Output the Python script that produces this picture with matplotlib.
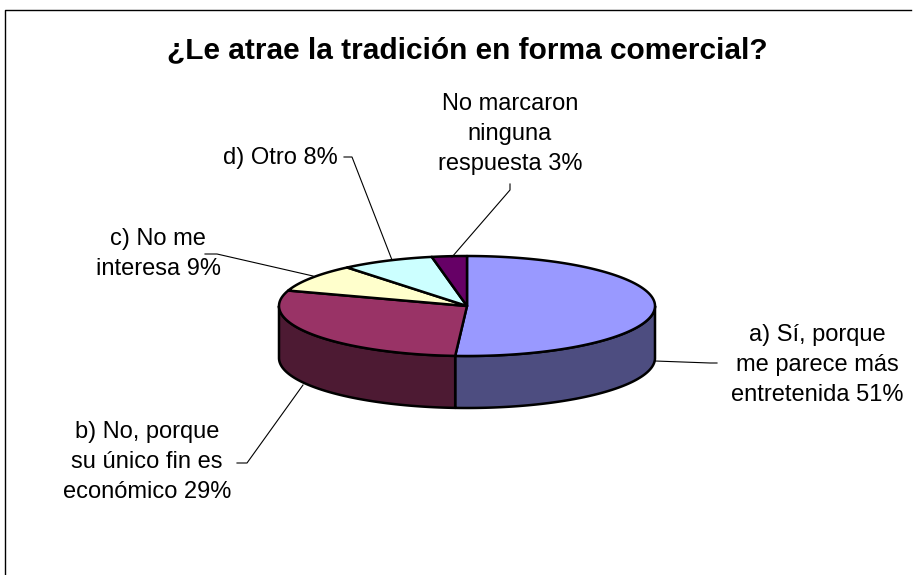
import numpy as np
import matplotlib.pyplot as plt
from matplotlib.patches import Polygon

plt.rcParams['font.family'] = ['Liberation Sans', 'DejaVu Sans']

# datos del grafico
etiquetas = ['a) Sí, porque\nme parece más\nentretenida 51%',
             'b) No, porque\nsu único fin es\neconómico 29%',
             'c) No me\ninteresa 9%',
             'd) Otro 8%',
             'No marcaron\nninguna\nrespuesta 3%']
valores = [51, 29, 9, 8, 3]
colores = ['#9999FF', '#993366', '#FFFFCC', '#CCFFFF', '#660066']
titulo = '¿Le atrae la tradición en forma comercial?'

# geometria del pastel 3D (en pixeles)
cx, cy = 467, 306
rx, ry = 188, 50
prof = 52

def punto(t):
    # t = angulo en grados, sentido horario desde arriba
    r = np.radians(t)
    return cx + rx * np.sin(r), cy - ry * np.cos(r)

def arco(t1, t2, dy=0):
    ts = np.linspace(t1, t2, max(int(abs(t2 - t1)) * 2, 2))
    xs, ys = punto(ts)
    return np.column_stack([xs, ys + dy])

fig = plt.figure(figsize=(9.16, 5.75), dpi=100)
ax = fig.add_axes([0, 0, 1, 1])
ax.set_xlim(0, 916)
ax.set_ylim(575, 0)
ax.axis('off')

# marco
ax.plot([5, 5, 911], [575, 10, 10], color='black', lw=1)

ang = np.concatenate([[0], np.cumsum(valores) / sum(valores) * 360])

# caras laterales (solo la mitad frontal)
for i in range(len(valores)):
    a1, a2 = max(ang[i], 90), min(ang[i + 1], 270)
    if a2 <= a1:
        continue
    arriba = arco(a1, a2)
    abajo = arco(a2, a1, prof)
    c = np.array(plt.matplotlib.colors.to_rgb(colores[i])) * 0.5
    ax.add_patch(Polygon(np.vstack([arriba, abajo]), closed=True,
                         facecolor=c, edgecolor='black', lw=1.8, joinstyle='round'))

# caras superiores
for i in range(len(valores)):
    pts = np.vstack([[cx, cy], arco(ang[i], ang[i + 1])])
    ax.add_patch(Polygon(pts, closed=True, facecolor=colores[i],
                         edgecolor='black', lw=1.8, joinstyle='round'))

# etiquetas y lineas guia
pos_texto = [(817, 365), (147, 462), (158, 254), (280, 158), (510, 134)]
guias = [
    [(655, 361), (710, 363), (717, 363)],
    [(303, 385), (247, 463), (237, 463)],
    [(313, 276), (217, 254), (205, 254)],
    [(392, 260), (352, 157), (344, 157)],
    [(452, 257), (510, 190), (510, 184)],
]
for txt, (tx, ty), g in zip(etiquetas, pos_texto, guias):
    ax.text(tx, ty, txt, ha='center', va='center', multialignment='center',
            fontsize=17, linespacing=1.45)
    gx, gy = zip(*g)
    ax.plot(gx, gy, color='black', lw=0.8)

ax.text(467, 50, titulo, ha='center', va='center', fontsize=21.5,
        fontweight='bold')

plt.savefig('out.png', dpi=100)
